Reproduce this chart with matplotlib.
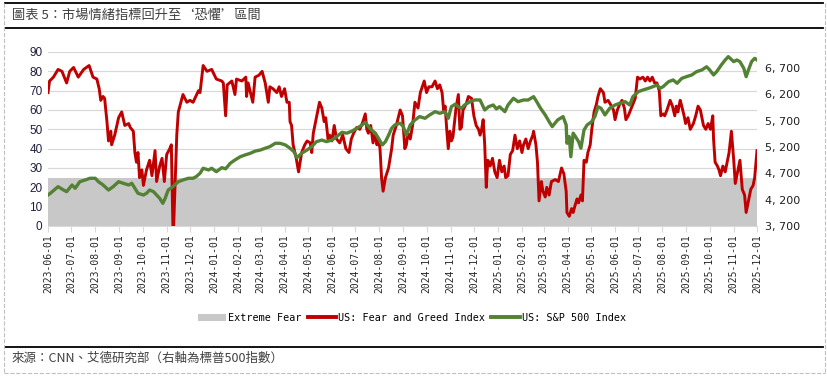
import matplotlib
matplotlib.use("Agg")
import matplotlib.pyplot as plt
import matplotlib.dates as mdates
from matplotlib.lines import Line2D
from matplotlib.patches import Patch
import pandas as pd

plt.rcParams['font.family'] = ['Noto Sans CJK TC', 'DejaVu Sans']

start = pd.Timestamp("2023-06-01")
end = pd.Timestamp("2025-12-01")
extreme_fear_level = 25

# CNN Fear & Greed index, days since 2023-06-01
fg_days = [0, 2, 7, 13, 18, 24, 28, 33, 39, 46,
           53, 58, 63, 66, 68, 71, 73, 76, 78, 81,
           82, 86, 91, 95, 99, 104, 106, 110, 112, 114,
           116, 118, 121, 123, 127, 131, 134, 138, 140, 144,
           147, 150, 153, 157, 159, 161, 162, 166, 168, 174,
           179, 183, 187, 194, 196, 200, 205, 211, 217, 224,
           226, 229, 231, 237, 241, 243, 250, 255, 256, 258,
           264, 267, 272, 276, 280, 284, 286, 290, 295, 298,
           301, 305, 308, 311, 312, 314, 316, 320, 323, 325,
           327, 331, 334, 338, 340, 342, 346, 350, 353, 356,
           358, 361, 363, 366, 369, 372, 376, 380, 384, 388,
           391, 394, 398, 402, 406, 409, 411, 413, 416, 419,
           422, 424, 426, 428, 430, 432, 435, 439, 441, 443,
           445, 449, 454, 457, 460, 462, 464, 467, 470, 473,
           477, 480, 485, 488, 491, 495, 499, 502, 505, 508,
           510, 512, 514, 516, 518, 520, 522, 526, 529, 531,
           533, 535, 539, 542, 546, 549, 552, 555, 557, 559,
           561, 563, 565, 567, 570, 573, 576, 579, 582, 585,
           588, 590, 593, 596, 599, 602, 605, 608, 611, 613,
           616, 619, 622, 625, 626, 629, 631, 633, 636, 638,
           641, 643, 646, 649, 654, 658, 662, 665, 668, 669,
           672, 675, 677, 679, 682, 684, 687, 689, 691, 694,
           696, 699, 701, 704, 707, 709, 712, 716, 718, 722,
           725, 729, 731, 734, 737, 740, 743, 745, 748, 751,
           754, 757, 760, 763, 767, 770, 773, 776, 779, 782,
           785, 788, 790, 793, 795, 798, 802, 805, 808, 810,
           812, 815, 817, 820, 822, 825, 828, 832, 835, 838,
           841, 845, 848, 851, 854, 857, 858, 860, 863, 865,
           867, 870, 873, 876, 878, 881, 884, 886, 888, 892,
           895, 898, 900, 903, 906, 909, 911, 914]
fg_values = [69, 75, 77, 81, 80, 74, 80, 82, 77, 81,
             83, 77, 76, 71, 65, 67, 66, 54, 44, 49,
             42, 47, 56, 59, 52, 53, 51, 49, 38, 33,
             38, 25, 29, 21, 29, 34, 26, 39, 23, 31,
             35, 23, 37, 40, 42, 0, 0, 47, 59, 68,
             64, 65, 64, 70, 69, 83, 80, 81, 76, 75,
             74, 57, 73, 75, 68, 76, 75, 77, 67, 74,
             64, 77, 78, 80, 74, 64, 72, 71, 69, 72,
             67, 71, 64, 64, 54, 52, 42, 35, 28, 33,
             38, 42, 44, 43, 38, 48, 56, 64, 61, 54,
             56, 45, 47, 44, 52, 45, 43, 47, 40, 38,
             45, 48, 51, 50, 54, 58, 50, 48, 52, 43,
             48, 42, 45, 40, 25, 18, 25, 30, 35, 40,
             47, 52, 60, 57, 40, 42, 48, 45, 52, 64,
             61, 69, 75, 69, 72, 72, 75, 71, 73, 69,
             60, 62, 50, 40, 49, 44, 46, 61, 68, 50,
             51, 60, 63, 67, 66, 57, 52, 50, 47, 50,
             55, 42, 20, 34, 31, 35, 28, 25, 34, 28,
             31, 25, 26, 37, 39, 47, 40, 44, 38, 42,
             45, 40, 44, 47, 49, 42, 33, 13, 23, 18,
             15, 20, 16, 23, 24, 23, 30, 27, 18, 7,
             5, 9, 7, 10, 14, 12, 16, 13, 34, 33,
             38, 42, 50, 59, 63, 67, 71, 69, 64, 65,
             63, 60, 55, 60, 63, 65, 61, 55, 57, 60,
             63, 66, 77, 76, 77, 75, 77, 75, 77, 74,
             74, 70, 57, 58, 57, 60, 65, 62, 57, 62,
             59, 65, 62, 57, 53, 56, 50, 53, 57, 62,
             60, 52, 50, 53, 50, 57, 45, 33, 31, 29,
             26, 31, 28, 34, 38, 49, 34, 22, 26, 34,
             19, 16, 7, 13, 19, 21, 25, 39]

# S&P 500 index, days since 2023-06-01
spx_days = [0, 3, 13, 20, 24, 31, 35, 41, 48, 54,
            61, 65, 71, 78, 84, 91, 97, 104, 108, 112,
            116, 123, 127, 131, 136, 140, 144, 148, 151, 155,
            161, 168, 174, 181, 187, 191, 196, 200, 207, 211,
            217, 224, 229, 235, 241, 248, 254, 261, 267, 274,
            280, 286, 293, 299, 306, 312, 317, 321, 327, 334,
            340, 346, 353, 359, 366, 372, 379, 385, 392, 398,
            405, 409, 414, 418, 422, 426, 431, 435, 439, 443,
            447, 454, 458, 462, 467, 473, 479, 486, 492, 499,
            505, 512, 516, 520, 525, 529, 533, 537, 544, 550,
            557, 563, 568, 574, 578, 582, 589, 593, 600, 606,
            613, 619, 626, 630, 635, 641, 646, 650, 657, 664,
            668, 669, 672, 674, 677, 680, 684, 687, 691, 695,
            701, 705, 709, 713, 718, 724, 731, 737, 744, 750,
            754, 761, 767, 774, 780, 785, 789, 793, 800, 806,
            811, 817, 823, 830, 836, 843, 849, 853, 858, 862,
            868, 873, 877, 884, 888, 892, 897, 900, 903, 907,
            911, 914]
spx_values = [4288, 4320, 4446, 4383, 4351, 4478, 4415, 4540, 4573, 4605,
              4605, 4540, 4478, 4383, 4446, 4540, 4510, 4478, 4510, 4415,
              4320, 4288, 4320, 4383, 4351, 4288, 4225, 4130, 4225, 4383,
              4446, 4540, 4573, 4605, 4605, 4636, 4700, 4795, 4763, 4795,
              4730, 4806, 4785, 4890, 4952, 5015, 5047, 5080, 5120, 5142,
              5175, 5205, 5269, 5269, 5237, 5175, 5109, 4996, 5080, 5142,
              5205, 5299, 5330, 5300, 5330, 5394, 5477, 5460, 5500, 5553,
              5616, 5667, 5570, 5510, 5460, 5365, 5237, 5300, 5420, 5553,
              5616, 5650, 5585, 5426, 5616, 5711, 5775, 5743, 5806, 5868,
              5838, 5868, 5743, 5963, 6010, 5963, 5932, 5995, 6058, 6090,
              6090, 5900, 5963, 5995, 5920, 5963, 5868, 5995, 6122, 6058,
              6090, 6090, 6153, 6058, 5932, 5806, 5680, 5585, 5711, 5775,
              5616, 5269, 5395, 5014, 5460, 5395, 5300, 5175, 5520, 5616,
              5680, 5775, 5963, 5932, 5806, 5932, 5995, 6027, 6058, 5995,
              6153, 6248, 6280, 6311, 6343, 6375, 6311, 6343, 6437, 6470,
              6407, 6500, 6532, 6565, 6627, 6660, 6720, 6660, 6565, 6627,
              6754, 6849, 6912, 6817, 6849, 6817, 6690, 6532, 6660, 6817,
              6880, 6849]

left_ticks = list(range(0, 100, 10))
right_ticks = list(range(3700, 7000, 500))

fg_dates = start + pd.to_timedelta(fg_days, unit="D")
spx_dates = start + pd.to_timedelta(spx_days, unit="D")
month_ticks = pd.date_range(start, end, freq="MS")

RED = "#C00000"
GREEN = "#548235"
FEAR = "#C8C8C8"
GRID = "#D9D9D9"

fig = plt.figure(figsize=(8.28, 3.76), dpi=100)
ax = fig.add_axes([48 / 828, 1 - 226 / 376, (757 - 48) / 828, (226 - 52) / 376])
ax2 = ax.twinx()

ax.fill_between([start, end], 0, extreme_fear_level, color=FEAR, lw=0, zorder=1)
ax.plot(fg_dates, fg_values, color=RED, lw=2.1, zorder=3, solid_joinstyle="round")
ax2.plot(spx_dates, spx_values, color=GREEN, lw=2.4, zorder=3, solid_joinstyle="round")

ax.set_xlim(start, end)
ax.set_ylim(0, 90)
ax.set_yticks(left_ticks)
ax.grid(axis="y", color=GRID, lw=0.9)
ax.set_axisbelow(True)
ax2.set_ylim(3700, 7000)
ax2.set_yticks(right_ticks)
ax2.set_yticklabels([f"{v:,}".replace(",", ", ") for v in right_ticks])

ax.set_xticks(month_ticks)
ax.xaxis.set_major_formatter(mdates.DateFormatter("%Y-%m-%d"))
for lab in ax.get_xticklabels():
    lab.set_rotation(90)
    lab.set_fontfamily("DejaVu Sans Mono")
    lab.set_fontsize(7)
    lab.set_color("#262626")

for a in (ax, ax2):
    for s in a.spines.values():
        s.set_visible(False)
ax.spines["bottom"].set_visible(True)
ax.spines["bottom"].set_color(GRID)
ax.tick_params(axis="x", length=4, color=GRID, pad=2)
ax.tick_params(axis="y", length=0, labelsize=8.5, labelcolor="#1F1F3F", pad=4)
for lab in ax.get_yticklabels():
    lab.set_fontfamily("Liberation Sans")
ax2.tick_params(axis="y", length=0, labelsize=8.5, labelcolor="#1F1F1F", pad=6)
for lab in ax2.get_yticklabels():
    lab.set_fontfamily("DejaVu Sans")
    lab.set_fontsize(8)

handles = [Patch(facecolor=FEAR, edgecolor="none"),
           Line2D([], [], color=RED, lw=2.8),
           Line2D([], [], color=GREEN, lw=2.8)]
labels = ["Extreme Fear", "US: Fear and Greed Index", "US: S&P 500 Index"]
fig.legend(handles, labels, loc="center", bbox_to_anchor=(412 / 828, 1 - 318 / 376),
           ncol=3, frameon=False, prop={"family": "DejaVu Sans Mono", "size": 7.3},
           handlelength=2.8, handletextpad=0.2, columnspacing=0.6)

fig.text(12 / 828, 1 - 15 / 376, "圖表 5：市場情緒指標回升至‘恐懼’區間",
         fontsize=9.5, color="#404040", va="center", ha="left")
fig.text(12 / 828, 1 - 358 / 376, "來源：CNN、艾德研究部（右軸為標普500指數）",
         fontsize=9, color="#404040", va="center", ha="left")

for yy in (3, 28, 347):
    fig.add_artist(Line2D([5 / 828, 823 / 828], [1 - yy / 376] * 2,
                          transform=fig.transFigure, color="black", lw=1.3))
fig.add_artist(Line2D([4 / 828, 4 / 828], [1 - 3 / 376, 1 - 373 / 376],
                      transform=fig.transFigure, color="#BFBFBF", lw=0.8, ls="--"))
fig.add_artist(Line2D([825 / 828, 825 / 828], [1 - 3 / 376, 1 - 373 / 376],
                      transform=fig.transFigure, color="#BFBFBF", lw=0.8, ls="--"))
fig.add_artist(Line2D([4 / 828, 825 / 828], [1 - 373 / 376] * 2,
                      transform=fig.transFigure, color="#BFBFBF", lw=0.8, ls="--"))

fig.savefig("out.png", dpi=100)
